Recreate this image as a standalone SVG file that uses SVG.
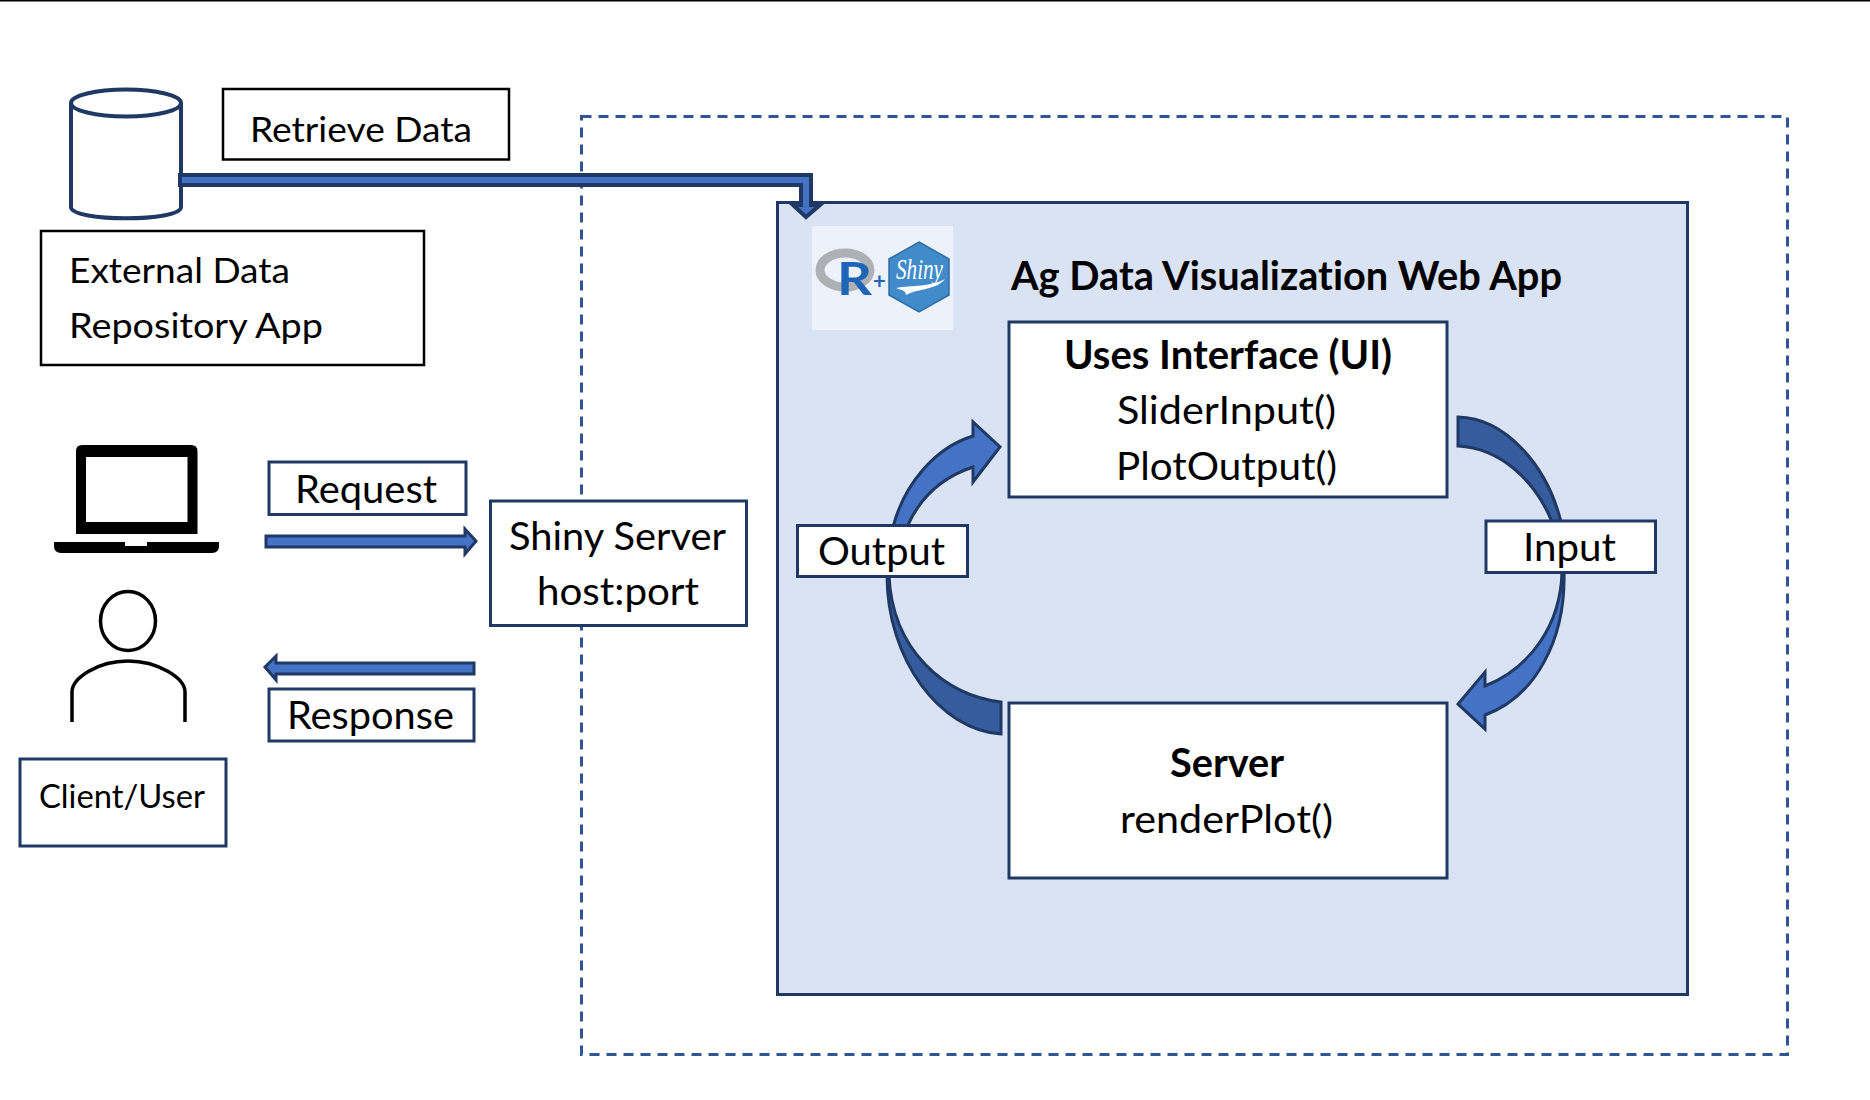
<svg xmlns="http://www.w3.org/2000/svg" width="1870" height="1100" viewBox="0 0 1870 1100">
<style>
text{font-family:Lato,"Liberation Sans",sans-serif;fill:#000;font-size:38px;font-variant-ligatures:none}
.b{font-weight:700;font-size:40px}
.s{font-size:35px}
.box{fill:#fff;stroke:#1f3864;stroke-width:3}
.bk{fill:#fff;stroke:#000;stroke-width:2.5}
.ar{fill:#4472c4;stroke:#1f3864;stroke-width:3;stroke-linejoin:miter}
.dk{fill:#355c9c;stroke:#1f3864;stroke-width:3}
</style>
<rect width="1870" height="1100" fill="#fff"/>
<rect width="1870" height="1.5" fill="#000"/>
<rect id="outer-boundary" x="581.5" y="116.5" width="1206" height="938" fill="none" stroke="#2f5597" stroke-width="3" stroke-dasharray="10 7"/>
<g id="web-app"><rect x="777.5" y="202.5" width="910" height="792" fill="#dae3f3" stroke="#1f3864" stroke-width="3"/>
<text class="b" x="1011" y="290" textLength="551" lengthAdjust="spacingAndGlyphs">Ag Data Visualization Web App</text></g>
<g id="logo">
<rect x="812" y="226" width="141" height="104" fill="#edf1f9"/>
<ellipse cx="845" cy="270" rx="25" ry="17" fill="none" stroke="#aeb0b5" stroke-width="9"/>
<text class="b" x="837" y="295" textLength="35" lengthAdjust="spacingAndGlyphs" style="font-size:46px;fill:#1f65b7">R</text>
<text class="b" x="873" y="289" style="font-size:22px;fill:#1f65b7">+</text>
<polygon points="919,242 949,259 949,295 919,312 889,295 889,259" fill="#428bca" stroke="#2f6ea5" stroke-width="1.5"/>
<text x="896" y="279" textLength="47" lengthAdjust="spacingAndGlyphs" style="font-family:'Liberation Serif',serif;font-style:italic;font-size:29px;fill:#fff">Shiny</text>
<path d="M896 288 C912 285 932 287 945 279 C936 290 920 288 906 295 C906 291 902 290 896 288Z" fill="#fff"/>
</g>
<g id="repository">
<path d="M71 103 V207 C71 222 181 222 181 207 V103" fill="#fff" stroke="#1f3864" stroke-width="4"/>
<ellipse cx="126" cy="103" rx="55" ry="13.500" fill="#fff" stroke="#1f3864" stroke-width="4"/>
</g>
<g id="retrieve-label"><rect class="bk" x="223" y="89" width="286" height="70.500"/><text class="s" x="250" y="142" textLength="222" lengthAdjust="spacingAndGlyphs">Retrieve Data</text></g>
<g id="external-label"><rect class="bk" x="41" y="231" width="383" height="134"/><text class="s" x="69" y="283" textLength="221" lengthAdjust="spacingAndGlyphs">External Data</text><text class="s" x="69" y="338" textLength="254" lengthAdjust="spacingAndGlyphs">Repository App</text></g>
<g id="laptop">
<path fill-rule="evenodd" d="M82 445 H191 Q197.500 445 197.500 451 V534 H76 V451 Q76 445 82 445Z M86 457 V522 H187.500 V457Z" fill="#000"/>
<path d="M54 542 H125 V546 H147 V542 H219 V546 Q219 553 212 553 H61 Q54 553 54 546Z" fill="#000"/>
</g>
<g id="person" fill="none" stroke="#000" stroke-width="3.500">
<ellipse cx="128" cy="621" rx="27.500" ry="29.500"/>
<path d="M72 722 V692 C72 678 98 661 128 661 C158 661 185 678 185 692 V722"/>
</g>
<g id="client-label"><rect class="box" x="20" y="759" width="206" height="87"/><text x="39" y="808" textLength="166" lengthAdjust="spacingAndGlyphs" style="font-size:33px">Client/User</text></g>
<g id="request-label"><rect class="box" x="269" y="462" width="197" height="52.500"/><text x="295" y="503" textLength="142" lengthAdjust="spacingAndGlyphs">Request</text></g>
<g id="response-label"><rect class="box" x="269" y="689" width="205" height="52"/><text x="287" y="729" textLength="167" lengthAdjust="spacingAndGlyphs">Response</text></g>
<g id="shiny-server"><rect class="box" x="490.500" y="501" width="256" height="124.500"/><text x="509" y="550" textLength="217" lengthAdjust="spacingAndGlyphs">Shiny Server</text><text x="537" y="605" textLength="162" lengthAdjust="spacingAndGlyphs">host:port</text></g>
<g id="connectors">
<polygon class="ar" style="stroke-width:4" points="180,175 811,175 811,205 820,205 806,217 793,205 801,205 801,185 180,185"/>
<polygon class="ar" points="266,536 465,536 465,529 476,541 465,554 465,547 266,547"/>
<polygon class="ar" points="474,663 276,663 276,656 265,667 276,680 276,674 474,674"/>
<path class="ar" d="M893 527 C904 485 934 448 973 436 V422 L1000 447 L973 482 V467 C943 477 920 497 907 527Z"/>
<path class="dk" d="M887 575 C887 660 940 730 1001 734 V702 C945 696 892 650 889 575Z"/>
<path class="dk" d="M1458 417 C1505 418 1547 465 1561 522 H1552 C1535 480 1500 448 1458 446Z"/>
<path class="ar" d="M1564 571 C1566 640 1535 697 1485 715 V729 L1458 704 L1485 672 V686 C1530 668 1561 625 1562 571Z"/>
</g>
<g id="ui"><rect class="box" x="1009" y="322" width="438" height="175"/>
<text class="b" x="1064" y="369" textLength="328" lengthAdjust="spacingAndGlyphs">Uses Interface (UI)</text>
<text x="1117" y="424" textLength="219" lengthAdjust="spacingAndGlyphs">SliderInput()</text>
<text x="1116" y="480" textLength="221" lengthAdjust="spacingAndGlyphs">PlotOutput()</text></g>
<g id="server"><rect class="box" x="1009" y="703" width="438" height="175"/>
<text class="b" x="1170" y="777" textLength="114" lengthAdjust="spacingAndGlyphs">Server</text>
<text x="1120" y="833" textLength="213" lengthAdjust="spacingAndGlyphs">renderPlot()</text></g>
<g id="output-label"><rect class="box" x="797.500" y="525.500" width="170" height="51"/><text x="818" y="565" textLength="127" lengthAdjust="spacingAndGlyphs">Output</text></g>
<g id="input-label"><rect class="box" x="1486" y="521" width="169.500" height="51.500"/><text x="1523" y="561" textLength="93" lengthAdjust="spacingAndGlyphs">Input</text></g>
</svg>
